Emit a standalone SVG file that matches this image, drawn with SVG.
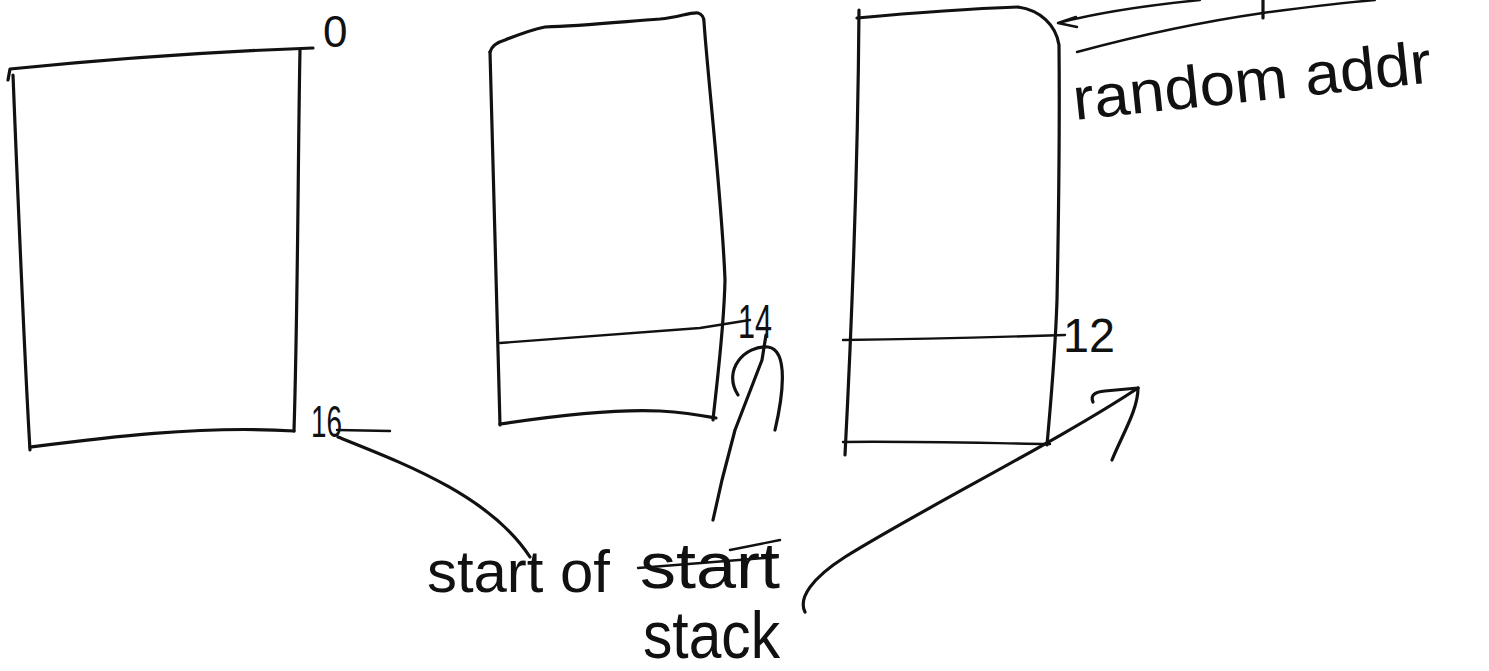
<svg xmlns="http://www.w3.org/2000/svg" width="1489" height="671" viewBox="0 0 1489 671">
<style>
.ln{fill:none;stroke:#111;stroke-width:3.2;stroke-linecap:round;stroke-linejoin:round}
.th{fill:none;stroke:#111;stroke-width:2.4;stroke-linecap:round;stroke-linejoin:round}
.tx{font-family:"Liberation Sans","DejaVu Sans",sans-serif;fill:#111}
</style>
<rect width="1489" height="671" fill="#fff"/>
<g id="box1">
<path class="ln" d="M8,80 L10,69 C100,60 200,52 313,48"/>
<path class="ln" d="M13,75 C18,200 24,350 30,450"/>
<path class="ln" d="M300,50 C298,150 298,300 294,431"/>
<path class="ln" d="M30,447 C100,438 200,425 294,431"/>
<text class="tx" x="323" y="47" font-size="44">0</text>
<text class="tx" x="311" y="437" font-size="44" textLength="31" lengthAdjust="spacingAndGlyphs">16</text>
</g>
<g id="box2">
<path class="ln" d="M490,52 C492,45 498,42 505,40 C520,34 530,30 545,27 C580,26 620,22 660,19 C680,17 690,12 698,13 C702,14 704,18 704,22 C708,80 722,200 725,280 C724,330 716,390 713,420"/>
<path class="ln" d="M490,52 C494,200 498,330 500,425"/>
<path class="ln" d="M500,424 C560,415 620,409 660,411 C690,413 705,416 716,418"/>
<path class="th" d="M500,343 L700,328 L750,320"/>
<text class="tx" x="738" y="338" font-size="48" textLength="34" lengthAdjust="spacingAndGlyphs">14</text>
</g>
<g id="box3">
<path class="ln" d="M857,18 C900,14 960,9 1018,7 C1040,10 1056,25 1059,45 C1060,150 1058,250 1057,300 C1055,360 1050,410 1047,445"/>
<path class="ln" d="M859,10 C858,150 853,300 845,455"/>
<path class="th" d="M843,442 C900,441 980,443 1050,444"/>
<path class="th" d="M843,340 C920,339 1000,337 1065,335"/>
<text class="tx" x="1063" y="352" font-size="48" textLength="52" lengthAdjust="spacingAndGlyphs">12</text>
</g>
<g id="labels">
<text class="tx" x="1075" y="120" font-size="60" textLength="360" lengthAdjust="spacingAndGlyphs" transform="rotate(-6 1075 120)">random addr</text>
<text class="tx" x="427" y="592" font-size="60" textLength="183" lengthAdjust="spacingAndGlyphs">start of</text>
<text class="tx" x="640" y="588" font-size="64" textLength="140" lengthAdjust="spacingAndGlyphs">start</text>
<path class="th" d="M638,568 L777,557 M730,550 L780,540"/>
<text class="tx" x="643" y="658" font-size="66" textLength="137" lengthAdjust="spacingAndGlyphs">stack</text>
</g>
<g id="connectors">
<path class="th" d="M337,430 L390,431"/>
<path class="ln" d="M338,437 C400,462 490,495 530,557"/>
<path class="ln" d="M766,335 L762,360 L735,430 L722,480 L713,520"/>
<path class="ln" d="M738,395 C722,370 745,345 768,347 C790,350 782,400 775,430"/>
<path class="ln" d="M805,612 C798,598 812,578 845,557 C920,510 1060,440 1138,388"/>
<path class="ln" d="M1093,402 C1090,395 1095,392 1105,391 L1138,388 C1138,410 1122,435 1112,460"/>
<path class="th" d="M1058,23 C1100,12 1150,5 1200,0 M1058,23 L1076,17 M1058,23 L1077,27"/>
<path class="th" d="M1077,52 C1140,35 1200,22 1263,13 C1300,8 1340,3 1375,0"/>
<path class="ln" d="M1263,0 L1263,18"/>
</g>
</svg>
